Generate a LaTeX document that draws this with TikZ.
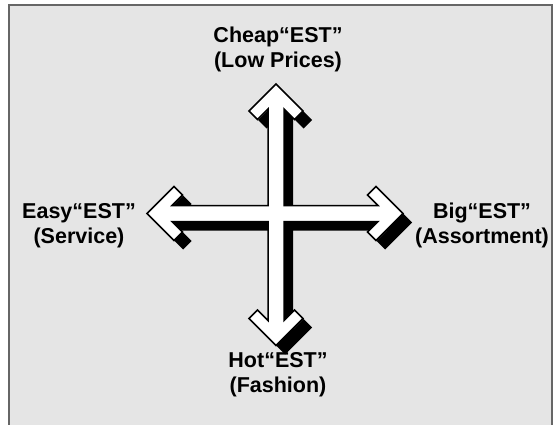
\documentclass[tikz,border=0pt]{standalone}
\usepackage{fontspec}
\setmainfont{Liberation Sans}
\newcommand{\arrowcrosspath}{(276,84) -- (303,111) -- (294.5,119.5) -- (284,109) -- (284,205.5) -- (378,205.5) -- (367.5,195) -- (376,186.5) -- (403,213.5) -- (376,240.5) -- (367.5,232) -- (378,221.5) -- (284,221.5) -- (284,320.5) -- (294.5,310) -- (303,318.5) -- (276,345.5) -- (249,318.5) -- (257.5,310) -- (268,320.5) -- (268,221.5) -- (172,221.5) -- (182.5,232) -- (174,240.5) -- (147,213.5) -- (174,186.5) -- (182.5,195) -- (172,205.5) -- (268,205.5) -- (268,109) -- (257.5,119.5) -- (249,111) -- cycle}
\tikzset{
  lbl/.style={font=\bfseries\fontsize{21.5}{25}\selectfont, align=center, inner sep=0pt},
}
\begin{document}
\begin{tikzpicture}[x=1pt,y=-1pt]
\useasboundingbox (0,0) rectangle (556,425);
\begin{scope}
\clip (0,0) rectangle (556,425);
\draw[draw=black!60, line width=2pt, fill=black!10] (8.5,5.5) rectangle (552,430);
\end{scope}
\fill[black, shift={(9,9)}] \arrowcrosspath;
\draw[black, fill=white, line width=1.5pt, line join=miter] \arrowcrosspath;
\node[lbl] (up) at (278,49) {Cheap“EST”\\(Low Prices)};
\node[lbl] (left) at (79,225.5) {Easy“EST”\\(Service)};
\node[lbl] (right) at (482,225.5) {Big“EST”\\(Assortment)};
\node[lbl] (down) at (278,375) {Hot“EST”\\(Fashion)};
\end{tikzpicture}
\end{document}
